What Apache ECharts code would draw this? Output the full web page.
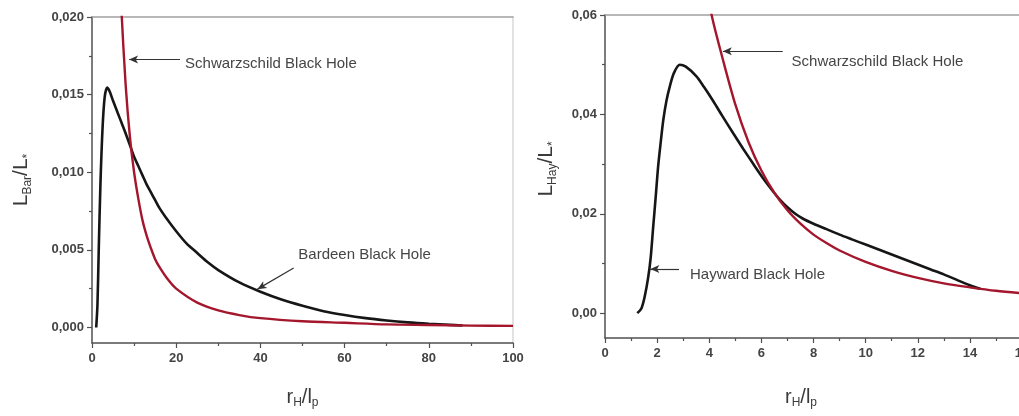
<!DOCTYPE html>
<html><head><meta charset="utf-8">
<script src="https://cdn.jsdelivr.net/npm/echarts@6/dist/echarts.min.js"></script>
<style>html,body{margin:0;padding:0;background:#fff}#c{width:1019px;height:416px}</style>
</head><body><div id="c"></div>
<script>
// ---- Left panel (Bardeen) ----
const bardeenR = [1.0, 1.3, 1.6, 2.0, 2.5, 3.0, 3.6, 4.2, 5, 6, 7, 8, 9.2, 10, 11, 12, 13, 14, 15, 16, 17.5, 20, 22.5, 25, 27.5, 30, 35, 40, 45, 50, 55, 60, 65, 70, 75, 80, 85, 88];
const bardeenL = [0.0000, 0.0015, 0.0050, 0.0092, 0.0128, 0.0148, 0.01545, 0.0152, 0.0146, 0.0139, 0.0132, 0.0125, 0.0116, 0.0110, 0.0104, 0.0098, 0.0092, 0.0087, 0.0082, 0.0077, 0.0071, 0.0062, 0.0054, 0.0048, 0.0042, 0.0037, 0.0029, 0.0023, 0.0018, 0.0014, 0.00105, 0.0008, 0.0006, 0.00045, 0.00033, 0.00024, 0.00017, 0.00013];
const schwLeftR = [6.5, 7, 8, 9, 10, 11, 12, 13, 14, 15, 16, 18, 20, 25, 30, 35, 40, 50, 60, 70, 80, 90, 100];
const schwLeftL = [0.0237, 0.0204, 0.0156, 0.0123, 0.0100, 0.0083, 0.0069, 0.0059, 0.0051, 0.0044, 0.0039, 0.0031, 0.0025, 0.0016, 0.0011, 0.0008, 0.0006, 0.0004, 0.0003, 0.0002, 0.00016, 0.00012, 0.0001];
const leftXTicks = [0, 20, 40, 60, 80, 100];
const leftYTicks = [0, 0.005, 0.010, 0.015, 0.020];
const leftYMinor = [0.0025, 0.0075, 0.0125, 0.0175];

// ---- Right panel (Hayward) ----
const haywardR = [1.24, 1.4, 1.53, 1.66, 1.75, 1.85, 1.95, 2.04, 2.14, 2.24, 2.36, 2.49, 2.65, 2.87, 3.1, 3.5, 3.8, 4.15, 4.5, 4.92, 5.3, 5.68, 6.1, 6.45, 6.7, 7.0, 7.3, 7.6, 8.0, 8.5, 9, 9.5, 10, 10.5, 11, 11.5, 12, 12.5, 13, 13.5, 14, 14.4];
const haywardL = [0.0, 0.001, 0.0035, 0.0073, 0.011, 0.0174, 0.0237, 0.0296, 0.0345, 0.039, 0.0428, 0.0457, 0.0484, 0.0500, 0.0496, 0.0477, 0.0455, 0.0427, 0.0397, 0.0362, 0.0331, 0.0301, 0.0269, 0.0245, 0.0229, 0.0213, 0.0200, 0.0190, 0.0180, 0.0169, 0.0158, 0.0148, 0.0138, 0.0128, 0.0118, 0.0108, 0.0098, 0.0088, 0.0078, 0.0067, 0.0056, 0.0049];
const schwRightR = [3.9, 4.1, 4.5, 5.0, 5.5, 6.0, 6.5, 7.0, 7.5, 8.0, 8.5, 9, 10, 11, 12, 13, 14, 15, 16];
const schwRightL = [0.0660, 0.0598, 0.0515, 0.0420, 0.0345, 0.0287, 0.0242, 0.0207, 0.0180, 0.0158, 0.0141, 0.0126, 0.0103, 0.0085, 0.0071, 0.0060, 0.0052, 0.0045, 0.0040];
const rightXTicks = [0, 2, 4, 6, 8, 10, 12, 14, 16];
const rightYTicks = [0, 0.02, 0.04, 0.06];
const rightYMinor = [0.01, 0.03, 0.05];

const FONT = '"Liberation Sans", Arial, sans-serif';
const AX = '#505050', BORDER = '#a0a0a0', LBL = '#444';
const zip = (a, b) => a.map((v, i) => [v, b[i]]);

function nameStyle(mainSize, subSize, subDrop, extra) {
  return Object.assign({
    fontFamily: FONT,
    rich: {
      m: {fontSize: mainSize, fontFamily: FONT, color: '#3a3a3a', verticalAlign: 'top', lineHeight: mainSize + 2},
      s: {fontSize: subSize, fontFamily: FONT, color: '#3a3a3a', verticalAlign: 'bottom', lineHeight: subSize, padding: [subDrop, 0, 0, 0]}
    }
  }, extra || {});
}
const tickLbl = (dec) => ({
  fontFamily: FONT, fontSize: 13, fontWeight: 'bold', color: LBL,
  formatter: v => Number(v).toFixed(dec).replace('.', ',')
});

function xMain(grid, min, max, interval, name, gap, pad) {
  return {
    type: 'value', gridIndex: grid, position: 'bottom', min, max, interval,
    axisLine: {onZero: false, lineStyle: {color: AX, width: 1.5}},
    axisTick: {length: 5, lineStyle: {color: AX, width: 1.2}},
    minorTick: {show: true, splitNumber: 2, length: 3, lineStyle: {color: AX, width: 1.2}},
    axisLabel: Object.assign(tickLbl(0), {margin: 9, formatter: v => String(v)}),
    splitLine: {show: false},
    name, nameLocation: 'middle', nameGap: gap,
    nameTextStyle: nameStyle(20, 12, 14, {padding: pad})
  };
}
function xTop(grid, min, max) {
  return {type: 'value', gridIndex: grid, position: 'top', min, max,
    axisLine: {onZero: false, lineStyle: {color: BORDER, width: 1.5}},
    axisTick: {show: false}, axisLabel: {show: false}, splitLine: {show: false}};
}
function yMain(grid, min, max, ticks, dec, name, gap, pad) {
  return {
    type: 'value', gridIndex: grid, position: 'left', min, max,
    axisLine: {onZero: false, lineStyle: {color: AX, width: 1.5}},
    axisTick: {length: 5, customValues: ticks, lineStyle: {color: AX, width: 1.2}},
    axisLabel: Object.assign(tickLbl(dec), {customValues: ticks, margin: 8}),
    splitLine: {show: false},
    name, nameLocation: 'middle', nameGap: gap, nameRotate: 90,
    nameTextStyle: nameStyle(21, 12, 16, {padding: pad})
  };
}
function yMinor(grid, min, max, ticks) {
  return {type: 'value', gridIndex: grid, position: 'left', min, max,
    axisLine: {show: false, onZero: false},
    axisTick: {length: 3, customValues: ticks, lineStyle: {color: AX, width: 1.2}},
    axisLabel: {show: false}, splitLine: {show: false}};
}
function yRight(grid, min, max) {
  return {type: 'value', gridIndex: grid, position: 'right', min, max,
    axisLine: {show: true, onZero: false, lineStyle: {color: '#d8d8d8', width: 1.5}},
    axisTick: {show: false}, axisLabel: {show: false}, splitLine: {show: false}};
}

function arrow(from, to) {
  return {
    silent: true, animation: false,
    lineStyle: {color: '#333', width: 1.2, type: 'solid'},
    label: {show: false},
    data: [[{coord: from, symbol: 'none', symbolSize: 1}, {coord: to, symbol: 'arrow', symbolSize: [6, 9]}]]
  };
}
function note(at, text) {
  return {
    silent: true, animation: false, symbol: 'circle', symbolSize: 0,
    itemStyle: {color: 'transparent'},
    label: {show: true, position: 'right', distance: 0, formatter: text,
      fontFamily: FONT, fontSize: 15, color: '#454545'},
    data: [{coord: at}]
  };
}

const BLACK = '#161616', RED = '#a3162c';
const lineSeries = (xi, yi, data, color, width, extra) => Object.assign({
  type: 'line', xAxisIndex: xi, yAxisIndex: yi, data, symbol: 'none',
  smooth: 0.3, clip: true, lineStyle: {color, width}
}, extra);

const option = {
  animation: false,
  backgroundColor: '#fff',
  grid: [
    {left: 92, right: 506, top: 17, bottom: 73, outerBoundsMode: 'none'},
    {left: 605, right: -3, top: 15, bottom: 78, outerBoundsMode: 'none'}
  ],
  xAxis: [
    xMain(0, 0, 100, 20, '{m|r}{s|H}{m|/l}{s|p}', 44, [0, 0, 0, 0]),
    xTop(0, 0, 100),
    xMain(1, 0, 16, 2, '{m|r}{s|H}{m|/l}{s|p}', 49, [0, 25, 0, 0]),
    xTop(1, 0, 16)
  ],
  yAxis: [
    yMain(0, -0.001, 0.020, leftYTicks, 3, '{m|L}{s|Bar}{m|/L}{s|*}', 58, [0, 0, 0, 0]),
    yMinor(0, -0.001, 0.020, leftYMinor),
    yRight(0, -0.001, 0.020),
    yMain(1, -0.005, 0.06, rightYTicks, 2, '{m|L}{s|Hay}{m|/L}{s|*}', 46, [0, 0, 0, 15]),
    yMinor(1, -0.005, 0.06, rightYMinor)
  ],
  series: [
    lineSeries(0, 0, zip(bardeenR, bardeenL), BLACK, 2.6, {
      markLine: arrow([47.9, 0.00383], [39.3, 0.00247]),
      markPoint: note([49.0, 0.00468], 'Bardeen Black Hole')}),
    lineSeries(0, 0, zip(schwLeftR, schwLeftL), RED, 2.4, {
      markLine: arrow([20.9, 0.01727], [8.8, 0.01727]),
      markPoint: note([22.1, 0.0170], 'Schwarzschild Black Hole')}),
    lineSeries(2, 3, zip(haywardR, haywardL), BLACK, 2.6, {
      markLine: arrow([2.84, 0.00889], [1.74, 0.00889]),
      markPoint: note([3.26, 0.0077], 'Hayward Black Hole')}),
    lineSeries(2, 3, zip(schwRightR, schwRightL), RED, 2.4, {
      markLine: arrow([6.82, 0.0527], [4.52, 0.0527]),
      markPoint: note([7.16, 0.0505], 'Schwarzschild Black Hole')})
  ]
};
const chart = echarts.init(document.getElementById('c'), null, {renderer: 'canvas'});
chart.setOption(option);
</script></body></html>
